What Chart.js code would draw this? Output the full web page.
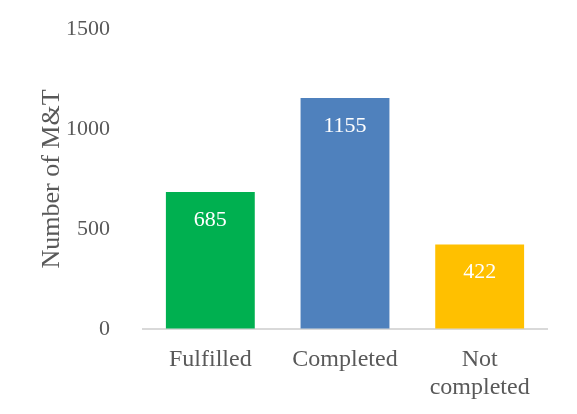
<!DOCTYPE html>
<html lang="en">
<head>
    <meta charset="UTF-8">
    <title>Number of M&amp;T</title>
    <script src="https://cdn.jsdelivr.net/npm/chart.js"></script>
    <style>
        html, body { margin: 0; padding: 0; background: #ffffff; }
        #wrap { width: 577px; height: 414px; }
    </style>
</head>
<body>
    <div id="wrap"><canvas id="chart" width="577" height="414"></canvas></div>
    <script>
        const categories = [['Fulfilled'], ['Completed'], ['Not', 'completed']];
        const counts = [685, 1155, 422];
        const barColors = ['#00B050', '#4F81BD', '#FFC000'];
        const yTicks = [0, 500, 1000, 1500];

        const serif = '"Liberation Serif", "Times New Roman", serif';

        // white value labels just inside the top of each bar
        const valueLabels = {
            id: 'valueLabels',
            afterDatasetsDraw(chart) {
                const ctx = chart.ctx;
                const meta = chart.getDatasetMeta(0);
                ctx.save();
                ctx.font = '22px ' + serif;
                ctx.fillStyle = '#ffffff';
                ctx.textAlign = 'center';
                ctx.textBaseline = 'middle';
                meta.data.forEach((bar, i) => {
                    ctx.fillText(String(counts[i]), bar.x, bar.y + 28);
                });
                ctx.restore();
            }
        };

        new Chart(document.getElementById('chart'), {
            type: 'bar',
            data: {
                labels: categories,
                datasets: [{
                    data: counts,
                    backgroundColor: barColors,
                    borderWidth: 0,
                    barPercentage: 0.66,
                    categoryPercentage: 1
                }]
            },
            options: {
                responsive: false,
                animation: false,
                layout: { padding: { left: 33, right: 30, top: 29, bottom: 0 } },
                plugins: {
                    legend: { display: false },
                    tooltip: { enabled: false }
                },
                scales: {
                    x: {
                        grid: { display: false },
                        border: { display: true, color: '#d9d9d9', width: 2 },
                        ticks: {
                            color: '#595959',
                            font: { family: serif, size: 24, lineHeight: 1.15 },
                            padding: 9,
                            maxRotation: 0
                        },
                        afterFit(scale) { scale.height = 85; }
                    },
                    y: {
                        min: 0,
                        max: 1500,
                        // invisible ticks just to push the labels left
                        grid: { display: true, drawOnChartArea: false, drawTicks: true, tickLength: 23, color: 'rgba(0,0,0,0)' },
                        border: { display: false },
                        afterBuildTicks(scale) {
                            scale.ticks = yTicks.map(v => ({ value: v }));
                        },
                        ticks: {
                            color: '#595959',
                            font: { family: serif, size: 22 },
                            padding: 10,
                            callback: v => String(v)
                        },
                        title: {
                            display: true,
                            text: 'Number of M&T',
                            color: '#595959',
                            font: { family: serif, size: 26 },
                            padding: { top: 4, bottom: 0 }
                        },
                        afterFit(scale) { scale.width = 110; }
                    }
                }
            },
            plugins: [valueLabels]
        });
    </script>
</body>
</html>
